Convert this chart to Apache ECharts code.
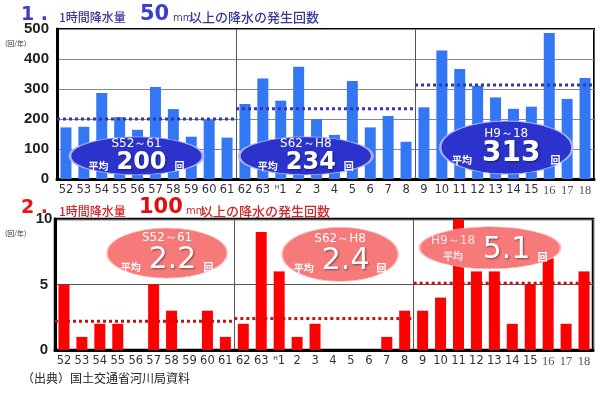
<!DOCTYPE html>
<html><head><meta charset="utf-8">
<script src="https://cdn.jsdelivr.net/npm/echarts@6/dist/echarts.min.js"></script>
<style>html,body{margin:0;padding:0;background:#fff}#c{width:600px;height:394px}</style>
</head><body><div id="c"></div>
<script>
// ---- data ----
const categories = ['52','53','54','55','56','57','58','59','60','61','62','63','H1','2','3','4','5','6','7','8','9','10','11','12','13','14','15','16','17','18'];
const count50 = [172,174,287,206,164,307,233,141,197,138,250,335,261,374,200,147,327,172,210,124,239,428,367,311,272,234,241,487,267,337];
const count100 = [5,1,2,2,0,5,3,0,3,1,2,9,6,1,2,0,0,0,1,3,3,4,10,6,6,2,5,7,2,6];
const periods = ['S52～61','S62～H8','H9～18'];
const periodStart = [0,10,20];
const periodEnd = [10,20,30];
const avg50 = [200,234,313];
const avg100 = [2.2,2.4,5.1];
const yTicks50 = [0,100,200,300,400,500];
const yTicks100 = [0,5,10];

// ---- layout (annotation placement in axis units, sizes in px) ----
const ell50 = [{x:4.44,y:77,w:133,h:38},{x:13.9,y:77,w:133,h:38},{x:25.1,y:105,w:132,h:53}];
const ell100 = [{x:6.25,y:7.4,w:120,h:50},{x:15.9,y:7.3,w:116,h:54},{x:24.26,y:7.8,w:141,h:42}];

const JP = '"Noto Sans CJK JP"';
const chart = echarts.init(document.getElementById('c'), null, {renderer:'canvas'});

const xLabel = {
  interval:0, margin:5,
  formatter: v => v==='H1' ? '{h|H}{n|1}' : (['16','17','18'].includes(v) ? '{r|'+v+'}' : '{n|'+v+'}'),
  rich:{
    n:{fontSize:11.5,fontFamily:'DejaVu Sans',color:'#333',fontWeight:500},
    h:{fontSize:6,fontFamily:'DejaVu Sans',color:'#333',padding:[0,0,7,0]},
    r:{fontSize:12.5,fontFamily:'"Liberation Serif"',color:'#555'}
  }
};

function catAxis(g){return {type:'category',gridIndex:g,data:categories,axisTick:{show:false},
  axisLine:{show:true,lineStyle:{color:'#000',width:3}},axisLabel:xLabel};}
function valXAxis(g){return {type:'value',gridIndex:g,min:0,max:30,interval:10,position:'top',
  axisLine:{show:false},axisTick:{show:false},axisLabel:{show:false},
  splitLine:{show:true,lineStyle:{color:'#555',width:1}}};}

function avgSeries(avgs,xi,yi,color){
  return avgs.map((a,i)=>({type:'line',xAxisIndex:xi,yAxisIndex:yi,silent:true,z:4,symbol:'none',
    data:[[periodStart[i],a],[periodEnd[i],a]],lineStyle:{color:color,width:3,type:[3,3]}}));
}

const shadow = {textShadowColor:'rgba(0,0,0,0.45)',textShadowBlur:2,textShadowOffsetX:1,textShadowOffsetY:1};

const topEll = {type:'scatter',xAxisIndex:1,yAxisIndex:0,z:6,silent:true,
  itemStyle:{color:'#2b33cc',borderColor:'#a8b4ff',borderWidth:1.5,opacity:1},
  data: ell50.map((p,i)=>({value:[p.x,p.y],symbolSize:[p.w,p.h],
    label:{show:true,position:'inside',
      formatter:'{t|'+periods[i]+'}\n{s|平均}{'+(i===2?'B':'b')+'|'+avg50[i]+'}{s|回}',
      rich:{
        t:{fontSize:12,fontFamily:'DejaVu Sans',color:'#fff',lineHeight:13,align:'center'},
        s:{fontSize:10,fontFamily:JP,fontWeight:'bold',color:'#fff',verticalAlign:'bottom',padding:[0,0,3,0]},
        b:Object.assign({fontSize:24,fontFamily:'DejaVu Sans',fontWeight:'bold',color:'#fff',padding:[0,8,0,8],lineHeight:24},shadow),
        B:Object.assign({fontSize:28,fontFamily:'DejaVu Sans',fontWeight:'bold',color:'#fff',padding:[0,10,0,10],lineHeight:28},shadow)
      }}}))
};

const botRich = {
  t:{fontSize:12,fontFamily:'DejaVu Sans',color:'#fff',lineHeight:14,align:'center'},
  s:{fontSize:10,fontFamily:JP,fontWeight:'bold',color:'#fff',verticalAlign:'bottom',padding:[0,0,3,0]},
  b:Object.assign({fontSize:30,fontFamily:'DejaVu Sans',color:'#fff',padding:[0,7,0,8],lineHeight:30},shadow)
};
const botData = ell100.map((p,i)=>({value:[p.x,p.y],symbolSize:[p.w,p.h],
  label:{show:true,position:'inside',
    formatter: i<2 ? '{t|'+periods[i]+'}\n{s|平均}{b|'+avg100[i]+'}{s|回}' : '{b|'+avg100[i]+'}{s|回}',
    offset: i<2 ? [0,0] : [21,2], rich:botRich}}));
const botEll = {type:'scatter',xAxisIndex:3,yAxisIndex:1,z:6,silent:true,
  itemStyle:{color:'#f67a7a',borderColor:'#fbb',borderWidth:1,opacity:1},data:botData};
const botEllText = {type:'scatter',xAxisIndex:3,yAxisIndex:1,z:7,silent:true,symbolSize:2,
  itemStyle:{color:'rgba(0,0,0,0)'},
  data:[{value:[ell100[2].x,ell100[2].y],
    label:{show:true,position:'inside',offset:[-37,1],formatter:'{t|'+periods[2]+'}\n{u|平均}',
      rich:{t:{fontSize:12,fontFamily:'DejaVu Sans',color:'#fff',lineHeight:15,align:'center'},
            u:{fontSize:10,fontFamily:JP,fontWeight:'bold',color:'#fff',lineHeight:15,align:'center'}}}}]};

const gtext = (t,x,y,font,fill)=>({type:'text',x:x,y:y,z:10,style:{text:t,font:font,fill:fill,textVerticalAlign:'middle'}});

chart.setOption({
  animation:false,
  backgroundColor:'#fff',
  grid:[
    {left:57,right:6,top:29,height:150,show:true,borderColor:'#000',borderWidth:2,backgroundColor:'transparent'},
    {left:55,right:7,top:219,height:131,show:true,borderColor:'#000',borderWidth:2.5,backgroundColor:'transparent'}
  ],
  xAxis:[catAxis(0),valXAxis(0),catAxis(1),valXAxis(1)],
  yAxis:[
    {type:'value',gridIndex:0,min:yTicks50[0],max:yTicks50[yTicks50.length-1],interval:yTicks50[1]-yTicks50[0],
     axisLine:{show:true,lineStyle:{color:'#000',width:3}},axisTick:{show:false},
     axisLabel:{margin:8,fontSize:15,fontWeight:'bold',fontFamily:'"Liberation Sans"',color:'#222'},
     splitLine:{lineStyle:{color:'#888',width:1}}},
    {type:'value',gridIndex:1,min:yTicks100[0],max:yTicks100[yTicks100.length-1],interval:yTicks100[1]-yTicks100[0],
     axisLine:{show:true,lineStyle:{color:'#000',width:3}},axisTick:{show:false},
     axisLabel:{margin:11,align:'center',fontSize:15,fontWeight:'bold',fontFamily:'"Liberation Sans"',color:'#222'},
     splitLine:{lineStyle:{color:'#555',width:1}}}
  ],
  series:[
    {type:'bar',xAxisIndex:0,yAxisIndex:0,data:count50,barWidth:11,itemStyle:{color:'#3477f5'},z:2},
    ...avgSeries(avg50,1,0,'#3434b4'),
    topEll,
    {type:'bar',xAxisIndex:2,yAxisIndex:1,data:count100,barWidth:11,itemStyle:{color:'#ff0000'},z:2},
    ...avgSeries(avg100,3,1,'#cc1010'),
    botEll,
    botEllText
  ],
  graphic:[
    gtext('1 .',21,15,'bold 19px "DejaVu Sans"','#3c3cd0'),
    gtext('1時間降水量',59,17,'500 12px '+JP,'#3a3a9a'),
    gtext('50',140,15,'bold 21px "DejaVu Sans"','#3c3cd0'),
    gtext('mm',173,18,'10px "DejaVu Sans"','#3a3a9a'),
    gtext('以上の降水の発生回数',189,17,'500 13px '+JP,'#3a3a9a'),
    gtext('2 .',21,208,'bold 19px "DejaVu Sans"','#e81818'),
    gtext('1時間降水量',59,211,'500 12px '+JP,'#d02828'),
    gtext('100',139,208,'bold 21px "DejaVu Sans"','#e01010'),
    gtext('mm',186,211,'10px "DejaVu Sans"','#d02828'),
    gtext('以上の降水の発生回数',200,211,'500 13px '+JP,'#d02828'),
    gtext('(回/年)',5,43,'7px '+JP,'#333'),
    gtext('(回/年)',5,233,'7px '+JP,'#333'),
    gtext('（出典）国土交通省河川局資料',22,378,'12px '+JP,'#222')
  ]
});
</script></body></html>
